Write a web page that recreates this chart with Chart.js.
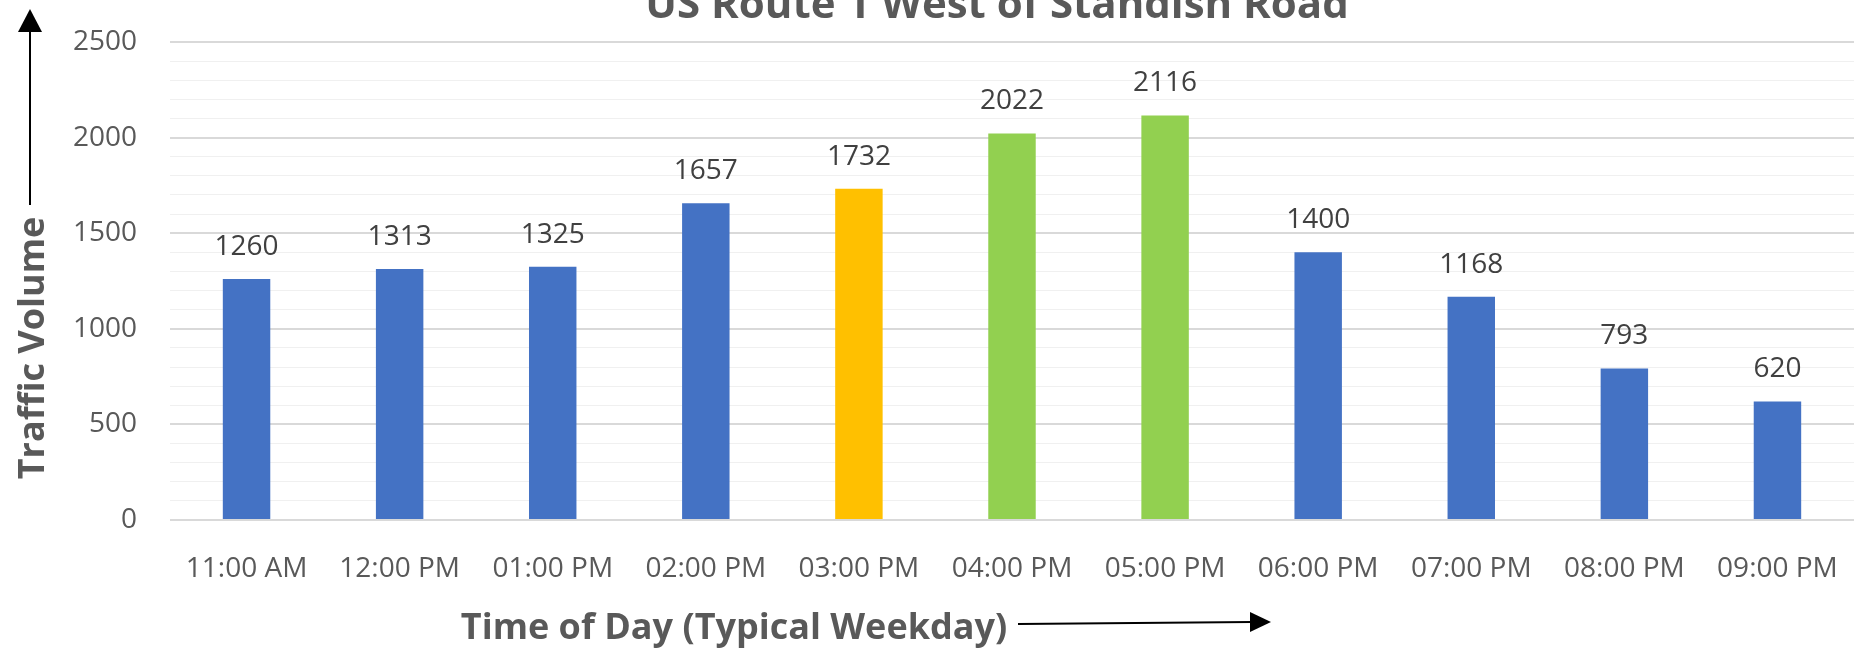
<!DOCTYPE html>
<html>
<head>
<meta charset="utf-8">
<title>US Route 1 West of Standish Road</title>
<script src="https://cdn.jsdelivr.net/npm/chart.js@4.4.1/dist/chart.umd.min.js"></script>
<style>
  html, body { margin: 0; padding: 0; background: #fff; }
  #wrap { width: 1869px; height: 649px; position: relative; }
</style>
</head>
<body>
<div id="wrap"><canvas id="trafficBar"></canvas></div>
<script>
const hours = ['11:00 AM', '12:00 PM', '01:00 PM', '02:00 PM', '03:00 PM', '04:00 PM',
  '05:00 PM', '06:00 PM', '07:00 PM', '08:00 PM', '09:00 PM']
const volumes = [1260, 1313, 1325, 1657, 1732, 2022, 2116, 1400, 1168, 793, 620]
const shoulderHours = ['03:00 PM']
const peakHours = ['04:00 PM', '05:00 PM']
const yMin = 0
const yMax = 2500
const majorStep = 500
const minorStep = 100

const chartTitle = 'US Route 1 West of Standish Road'
const xTitle = 'Time of Day (Typical Weekday)'
const yTitle = 'Traffic Volume'

const BLUE = '#4472C4'
const ORANGE = '#FFC000'
const GREEN = '#92D050'
const TEXT = '#595959'
const FONT = '"Open Sans", "Segoe UI", sans-serif'

const barColor = (hour) => {
  if (peakHours.includes(hour)) return GREEN
  if (shoulderHours.includes(hour)) return ORANGE
  return BLUE
}

// value labels above each bar
const valueLabels = {
  id: 'valueLabels',
  afterDatasetsDraw (chart) {
    const { ctx } = chart
    const meta = chart.getDatasetMeta(0)
    ctx.save()
    ctx.font = '28px ' + FONT
    ctx.fillStyle = '#404040'
    ctx.textAlign = 'center'
    ctx.textBaseline = 'alphabetic'
    meta.data.forEach((bar, i) => {
      ctx.fillText(String(volumes[i]), bar.x, bar.y - 24)
    })
    ctx.restore()
  }
}

// title, axis titles and the two arrows
const decorations = {
  id: 'decorations',
  afterDraw (chart) {
    const { ctx } = chart
    ctx.save()
    ctx.fillStyle = TEXT
    ctx.textAlign = 'center'
    ctx.textBaseline = 'alphabetic'

    ctx.font = 'bold 42px ' + FONT
    ctx.fillText(chartTitle, 997, 18)

    ctx.font = 'bold 36px ' + FONT
    ctx.fillText(xTitle, 734, 639)

    ctx.save()
    ctx.translate(44, 348)
    ctx.rotate(-Math.PI / 2)
    ctx.fillText(yTitle, 0, 0)
    ctx.restore()

    // arrows
    ctx.strokeStyle = '#000'
    ctx.fillStyle = '#000'
    ctx.lineWidth = 2

    ctx.beginPath()
    ctx.moveTo(30, 205)
    ctx.lineTo(30, 30)
    ctx.stroke()
    ctx.beginPath()
    ctx.moveTo(30, 9)
    ctx.lineTo(18, 32)
    ctx.lineTo(42, 32)
    ctx.closePath()
    ctx.fill()

    ctx.beginPath()
    ctx.moveTo(1018, 624)
    ctx.lineTo(1252, 622)
    ctx.stroke()
    ctx.beginPath()
    ctx.moveTo(1271, 622)
    ctx.lineTo(1250, 612)
    ctx.lineTo(1250, 632)
    ctx.closePath()
    ctx.fill()

    ctx.restore()
  }
}

document.addEventListener('DOMContentLoaded', () => {
  const el = document.getElementById('trafficBar')
  const ctx = el.getContext('2d')

  new Chart(ctx, {
    type: 'bar',
    data: {
      labels: hours,
      datasets: [{
        label: yTitle,
        data: volumes,
        backgroundColor: hours.map(barColor),
        borderWidth: 0,
        barPercentage: 0.31,
        categoryPercentage: 1.0
      }]
    },
    options: {
      responsive: true,
      maintainAspectRatio: false,
      animation: false,
      layout: { padding: { left: 0, right: 15, top: 42, bottom: 0 } },
      scales: {
        x: {
          grid: { display: false },
          border: { display: false },
          ticks: {
            color: TEXT,
            font: { family: FONT, size: 28 },
            padding: 24,
            maxRotation: 0,
            autoSkip: false
          },
          afterFit: (s) => { s.height = 129 }
        },
        y: {
          min: yMin,
          max: yMax,
          border: { display: false },
          grid: {
            // invisible ticks give the label gap without padding the top
            drawTicks: true,
            tickLength: 33,
            tickColor: 'rgba(0,0,0,0)',
            color: (c) => c.tick && c.tick.value % majorStep === 0 ? '#d9d9d9' : '#f0f0f0',
            lineWidth: (c) => c.tick && c.tick.value % majorStep === 0 ? 2 : 1
          },
          ticks: {
            stepSize: minorStep,
            autoSkip: false,
            color: TEXT,
            font: { family: FONT, size: 28 },
            padding: 0,
            callback: (v) => v % majorStep === 0 ? v : ''
          },
          afterFit: (s) => { s.width = 170 }
        }
      },
      plugins: {
        legend: { display: false },
        title: { display: false },
        tooltip: { enabled: false }
      }
    },
    plugins: [valueLabels, decorations]
  })
})
</script>
</body>
</html>
